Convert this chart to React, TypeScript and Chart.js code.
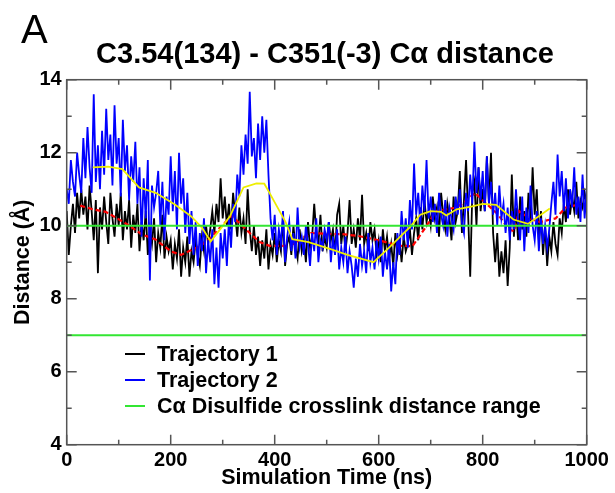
import React, { useEffect, useRef } from "react";
import { Chart, registerables } from "chart.js";

Chart.register(...registerables);

// ---------- data ----------
const TIME_STEP_NS = 4;

// Trajectory 1 (black), one value every 4 ns from 0 to 1000 ns
const trajectory1: number[] = [
  10.4, 9.2, 10.0, 10.6, 9.8, 10.9, 10.2, 11.0, 10.3, 10.8, 9.9, 11.1, 10.4, 9.6, 10.7, 8.7, 10.5, 9.9, 10.8, 10.1, 9.5, 10.9, 10.2, 9.7, 10.6,
  10.0, 10.9, 9.6, 10.4, 9.9, 10.7, 9.4, 10.3, 9.8, 10.6, 9.3, 10.1, 9.6, 10.4, 9.2, 9.9, 9.5, 10.2, 9.0, 9.8, 9.4, 10.3, 9.1, 9.7, 9.3,
  9.6, 8.8, 9.5, 9.1, 9.9, 8.6, 9.4, 9.0, 9.7, 8.6, 9.3, 9.0, 9.6, 9.2, 8.9, 9.7, 9.3, 10.0, 9.5, 9.9, 10.4, 9.8, 10.6, 10.1, 11.3,
  10.2, 10.8, 10.0, 10.6, 9.9, 10.9, 10.3, 9.7, 10.5, 9.8, 10.2, 9.5, 11.0, 9.9, 9.3, 10.0, 9.2, 9.7, 8.9, 9.6, 9.1, 9.9, 8.8, 9.5, 9.2,
  9.8, 9.0, 9.6, 9.3, 10.2, 8.9, 9.5, 9.7, 9.2, 10.0, 9.4, 9.1, 9.9, 9.3, 9.6, 9.0, 10.1, 9.4, 9.7, 10.6, 9.8, 9.5, 10.3, 9.3, 9.7,
  9.4, 10.1, 9.6, 9.9, 9.2, 10.3, 10.6, 9.5, 10.0, 9.3, 9.8, 10.7, 9.5, 9.9, 9.4, 10.2, 9.6, 10.85, 9.5, 9.8, 9.3, 10.1, 9.6, 9.9, 9.2,
  9.6, 9.0, 9.9, 9.3, 9.7, 9.1, 9.5, 8.9, 9.8, 9.2, 9.6, 9.0, 9.7, 9.3, 9.5, 9.9, 9.2, 9.8, 10.2, 9.6, 10.5, 9.9, 10.7, 10.1, 10.4,
  10.0, 10.8, 10.2, 10.5, 9.7, 10.9, 10.3, 9.9, 10.6, 10.2, 9.6, 10.8, 10.1, 10.4, 11.5, 9.8, 10.7, 11.8, 10.3, 8.6, 10.9, 11.2, 10.0, 11.6, 10.4,
  11.0, 10.4, 11.9, 10.6, 12.0, 9.8, 9.0, 9.8, 8.6, 9.3, 8.7, 9.6, 8.35, 9.4, 11.4, 9.7, 10.5, 9.6, 10.8, 9.9, 10.4, 9.7, 10.9, 10.1, 11.6,
  10.3, 11.0, 9.6, 10.4, 9.2, 10.0, 8.9, 9.7, 9.3, 10.1, 9.5, 9.2, 10.2, 9.8, 10.6, 10.1, 11.0, 10.3, 10.8, 10.4, 11.2, 10.2, 10.7, 10.5, 10.9,
  10.6,
];

// Trajectory 2 (blue), one value every 4 ns from 0 to 1000 ns
const trajectory2: number[] = [
  11.0, 10.6, 11.8, 11.2, 10.8, 12.0, 11.4, 10.9, 12.4, 11.3, 12.7, 11.6, 10.9, 13.6, 11.2, 12.2, 11.0, 12.6, 11.4, 13.2, 11.8, 12.5, 11.1, 13.3, 11.7,
  12.4, 10.8, 12.9, 11.5, 12.2, 10.7, 11.9, 11.2, 12.3, 10.6, 11.6, 9.7, 11.3, 10.2, 11.8, 8.5, 11.1, 10.5, 10.9, 11.5, 10.0, 11.2, 9.6, 10.8, 10.3,
  11.9, 10.4, 11.5, 9.9, 12.0, 10.6, 11.3, 9.8, 10.9, 9.5, 10.4, 9.2, 10.1, 8.9, 9.8, 9.3, 10.2, 8.7, 9.6, 9.0, 9.9, 8.4, 9.4, 8.3, 9.8,
  9.1, 9.9, 8.9, 10.2, 9.4, 10.6, 10.1, 11.4, 10.8, 12.2, 11.4, 12.5, 11.7, 13.67, 11.9, 12.4, 11.3, 12.8, 11.8, 13.0, 12.0, 12.9, 11.4, 10.2, 9.6,
  10.3, 9.2, 9.9, 9.5, 10.4, 9.0, 9.7, 10.1, 9.3, 9.8, 9.1, 10.5, 9.4, 9.7, 9.2, 10.0, 9.5, 8.9, 9.8, 9.3, 10.2, 9.0, 9.6, 9.4, 9.9,
  9.6, 10.1, 9.0, 9.7, 9.2, 9.9, 8.8, 9.4, 9.0, 9.7, 8.7, 9.3, 8.9, 8.3, 9.1, 8.6, 9.5, 8.9, 9.3, 8.7, 9.8, 9.0, 9.4, 8.8, 9.6,
  9.1, 9.7, 8.6, 9.3, 8.8, 9.5, 8.2, 9.0, 8.4, 9.8, 9.2, 10.4, 9.6, 10.2, 9.4, 10.7, 9.9, 11.7, 10.3, 10.9, 10.0, 11.1, 10.4, 11.8, 10.2,
  10.8, 10.1, 10.6, 9.8, 10.9, 10.3, 10.0, 10.7, 9.7, 10.5, 10.2, 9.9, 10.8, 10.3, 11.0, 10.1, 9.8, 10.9, 10.4, 11.4, 10.6, 12.3, 10.9, 11.6, 10.7,
  11.5, 10.4, 11.9, 10.6, 11.2, 10.3, 10.9, 10.0, 11.1, 10.2, 10.6, 9.8, 10.5, 9.6, 10.4, 9.9, 11.0, 10.1, 9.6, 10.8, 9.3, 10.5, 9.8, 11.1, 10.0,
  9.6, 10.4, 9.3, 10.2, 9.5, 10.0, 9.4, 9.9, 10.6, 11.2, 10.3, 11.95, 10.8, 11.5, 10.4, 11.3, 10.2, 11.0, 10.5, 11.6, 10.3, 10.8, 10.1, 11.4, 10.2,
  11.0,
];

// running average of trajectory 1 (red dashed)
const avg1Time: number[] = [26, 50, 75, 90, 115, 145, 170, 200, 220, 250, 270, 295, 317, 330, 352, 371, 390, 430, 470, 510, 530, 560, 600, 640, 665, 690, 710, 750, 770, 785, 800, 830, 850, 860, 870, 890, 910, 940, 960, 990];
const avg1Value: number[] = [10.55, 10.45, 10.38, 10.26, 10.05, 9.76, 9.63, 9.3, 9.2, 9.4, 9.57, 9.95, 10.27, 10.1, 9.8, 9.55, 9.45, 9.45, 9.8, 9.77, 9.77, 9.72, 9.6, 9.45, 9.44, 9.95, 10.4, 10.5, 10.7, 10.9, 10.7, 10.3, 9.9, 9.85, 10.4, 10.2, 10.1, 10.2, 10.5, 10.6];

// running average of trajectory 2 (yellow)
const avg2Time: number[] = [50, 80, 107, 139, 171, 208, 239, 260, 277, 295, 314, 340, 365, 380, 390, 421, 434, 465, 509, 540, 590, 620, 660, 680, 700, 720, 730, 750, 780, 800, 826, 859, 887, 929];
const avg2Value: number[] = [11.6, 11.62, 11.55, 11.05, 10.9, 10.58, 10.26, 9.95, 9.57, 9.9, 10.26, 11.05, 11.16, 11.15, 10.9, 10.1, 9.63, 9.55, 9.35, 9.2, 9.0, 9.4, 9.96, 10.3, 10.4, 10.38, 10.28, 10.45, 10.53, 10.6, 10.57, 10.17, 10.05, 10.47];

// C-alpha disulfide crosslink distance range (Å)
const crosslinkRange: number[] = [7, 10];

const X_RANGE: number[] = [0, 1000];
const Y_RANGE: number[] = [4, 14];
const X_TICKS: number[] = [0, 200, 400, 600, 800, 1000];
const X_MINOR: number[] = [100, 300, 500, 700, 900];
const Y_TICKS: number[] = [4, 6, 8, 10, 12, 14];
const Y_MINOR: number[] = [5, 7, 9, 11, 13];

const PANEL_LABEL = "A";
const TITLE = "C3.54(134) - C351(-3) C\u03B1 distance";
const X_TITLE = "Simulation Time (ns)";
const Y_TITLE = "Distance (\u00C5)";
const LEGEND_LABELS: string[] = ["Trajectory 1", "Trajectory 2", "C\u03B1 Disulfide crosslink distance range"];

// ---------- styles ----------
const FONT = '"Liberation Sans", Arial, Helvetica, sans-serif';
const C_BLACK = "#000000";
const C_BLUE = "#0000ff";
const C_GREEN = "#33e633";
const C_RED = "#ff0000";
const C_YELLOW = "#eeee00";

const decorPlugin = {
  id: "decor",
  afterDatasetsDraw(chart: any) {
    const { ctx, chartArea: a, scales } = chart;
    const xs = scales.x;
    const ys = scales.y;
    ctx.save();
    // frame
    ctx.strokeStyle = "#555555";
    ctx.lineWidth = 1.5;
    ctx.strokeRect(a.left, a.top, a.right - a.left, a.bottom - a.top);
    // inward ticks on all four sides
    const tick = (v: number, len: number, horizontal: boolean) => {
      ctx.beginPath();
      if (horizontal) {
        const px = xs.getPixelForValue(v);
        ctx.moveTo(px, a.bottom);
        ctx.lineTo(px, a.bottom - len);
        ctx.moveTo(px, a.top);
        ctx.lineTo(px, a.top + len);
      } else {
        const py = ys.getPixelForValue(v);
        ctx.moveTo(a.left, py);
        ctx.lineTo(a.left + len, py);
        ctx.moveTo(a.right, py);
        ctx.lineTo(a.right - len, py);
      }
      ctx.stroke();
    };
    X_TICKS.forEach((v) => tick(v, 10, true));
    X_MINOR.forEach((v) => tick(v, 5, true));
    Y_TICKS.forEach((v) => tick(v, 10, false));
    Y_MINOR.forEach((v) => tick(v, 5, false));

    // legend inside plot
    const items = [
      { label: LEGEND_LABELS[0], color: C_BLACK },
      { label: LEGEND_LABELS[1], color: C_BLUE },
      { label: LEGEND_LABELS[2], color: C_GREEN },
    ];
    const rows = [354, 380, 406];
    ctx.font = `bold 21.5px ${FONT}`;
    ctx.textBaseline = "middle";
    ctx.textAlign = "left";
    items.forEach((it, i) => {
      ctx.strokeStyle = it.color;
      ctx.lineWidth = 2;
      ctx.beginPath();
      ctx.moveTo(125, rows[i]);
      ctx.lineTo(145, rows[i]);
      ctx.stroke();
      ctx.fillStyle = "#000";
      ctx.fillText(it.label, 157, rows[i] + 1);
    });
    ctx.restore();
  },
  afterDraw(chart: any) {
    const { ctx } = chart;
    ctx.save();
    ctx.fillStyle = "#000";
    ctx.textBaseline = "alphabetic";
    ctx.textAlign = "left";
    ctx.font = `40px ${FONT}`;
    ctx.fillText(PANEL_LABEL, 21, 43);
    ctx.font = `bold 29px ${FONT}`;
    ctx.textAlign = "center";
    ctx.fillText(TITLE, 325, 63);
    ctx.restore();
  },
};

function line(data: { x: number; y: number }[], color: string, width: number, order: number, label: string, dash: number[] = []) {
  return {
    label,
    data,
    borderColor: color,
    backgroundColor: color,
    borderWidth: width,
    borderDash: dash,
    pointRadius: 0,
    tension: 0,
    fill: false,
    order,
  };
}

export default function App() {
  const ref = useRef<HTMLCanvasElement>(null);

  useEffect(() => {
    const canvas = ref.current;
    if (!canvas) return;
    const t1 = trajectory1.map((y, i) => ({ x: i * TIME_STEP_NS, y }));
    const t2 = trajectory2.map((y, i) => ({ x: i * TIME_STEP_NS, y }));
    const a1 = avg1Time.map((x, i) => ({ x, y: avg1Value[i] }));
    const a2 = avg2Time.map((x, i) => ({ x, y: avg2Value[i] }));
    const gLow = X_RANGE.map((x) => ({ x, y: crosslinkRange[0] }));
    const gHigh = X_RANGE.map((x) => ({ x, y: crosslinkRange[1] }));

    const tickFont = { family: FONT, size: 20, weight: "bold" as const };
    const titleFont = { family: FONT, size: 21.5, weight: "bold" as const };

    const chart = new Chart(canvas, {
      type: "line",
      data: {
        datasets: [
          line(t1, C_BLACK, 1.8, 5, LEGEND_LABELS[0]),
          line(t2, C_BLUE, 1.8, 3, LEGEND_LABELS[1]),
          line(a1, C_RED, 2.2, 4, "Trajectory 1 running average", [5, 3]),
          line(a2, C_YELLOW, 1.8, 2, "Trajectory 2 running average"),
          line(gLow, C_GREEN, 2, 1, LEGEND_LABELS[2]),
          line(gHigh, C_GREEN, 2, 0, LEGEND_LABELS[2]),
        ] as any,
      },
      options: {
        responsive: false,
        animation: false,
        devicePixelRatio: 1,
        layout: { padding: { left: 0, top: 79.7, right: 28.3, bottom: 0 } },
        plugins: {
          legend: { display: false },
          tooltip: { enabled: false },
          title: { display: false },
        },
        scales: {
          x: {
            type: "linear",
            min: X_RANGE[0],
            max: X_RANGE[1],
            afterBuildTicks: (s: any) => {
              s.ticks = X_TICKS.map((v) => ({ value: v }));
            },
            afterFit: (s: any) => {
              s.height = 48.3;
              s.paddingLeft = 0;
              s.paddingRight = 0;
            },
            grid: { display: false, drawTicks: false },
            border: { display: false },
            ticks: {
              font: tickFont,
              color: "#000",
              padding: 4,
              maxRotation: 0,
              autoSkip: false,
              callback: (v: any) => String(v),
            },
            title: { display: true, text: X_TITLE, font: titleFont, color: "#000", padding: { top: 0, bottom: 2 } },
          },
          y: {
            type: "linear",
            min: Y_RANGE[0],
            max: Y_RANGE[1],
            afterBuildTicks: (s: any) => {
              s.ticks = Y_TICKS.map((v) => ({ value: v }));
            },
            afterFit: (s: any) => {
              s.width = 66.7;
              s.paddingTop = 0;
              s.paddingBottom = 0;
            },
            grid: { display: false, drawTicks: false },
            border: { display: false },
            ticks: { font: tickFont, color: "#000", padding: 5, autoSkip: false, callback: (v: any) => String(v) },
            title: { display: true, text: Y_TITLE, font: titleFont, color: "#000", padding: { top: 10, bottom: 0 } },
          },
        },
      } as any,
      plugins: [decorPlugin],
    });
    return () => chart.destroy();
  }, []);

  return (
    <div style={{ position: "absolute", left: 0, top: 0, width: 615, height: 493, background: "#fff" }}>
      <canvas ref={ref} width={615} height={493} style={{ display: "block", width: 615, height: 493 }} />
    </div>
  );
}
